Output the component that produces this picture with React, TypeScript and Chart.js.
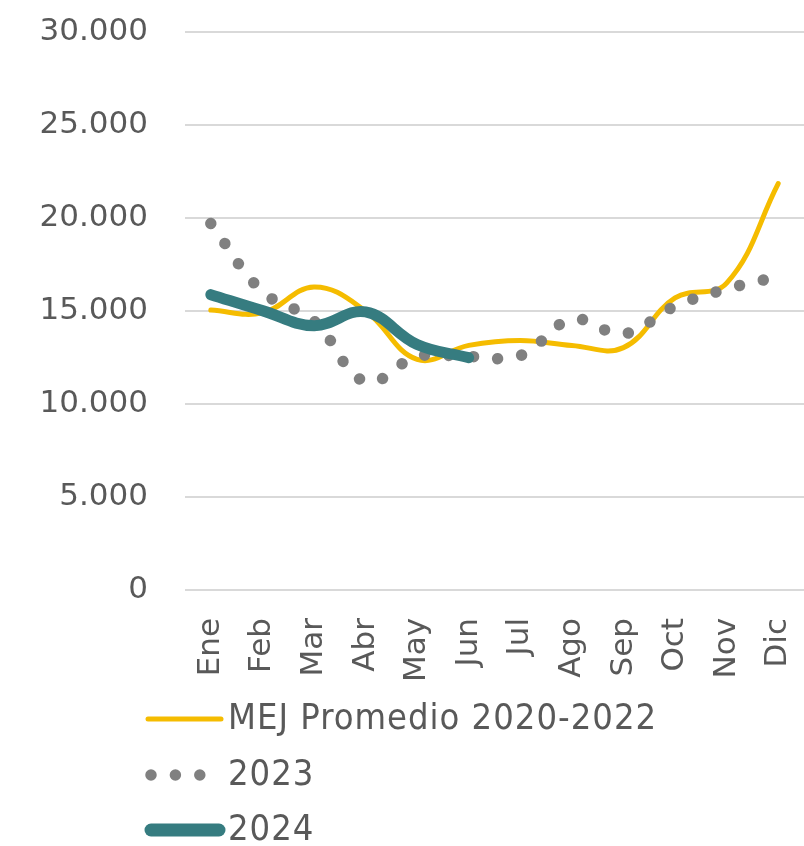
import React, { useEffect, useRef } from "react";
import { Chart, registerables } from "chart.js";

Chart.register(...registerables);

const months = ["Ene", "Feb", "Mar", "Abr", "May", "Jun", "Jul", "Ago", "Sep", "Oct", "Nov", "Dic"];
const mejPromedio = [15050, 14900, 16290, 15000, 12400, 13150, 13420, 13150, 13030, 15700, 16500, 21850];
const serie2023 = [19700, 16050, 14470, 11200, 12550, 12550, 12600, 14550, 13770, 15260, 16180, 16850];
const serie2024 = [15880, 15020, 14210, 14950, 13200, 12490, null, null, null, null, null, null];
const yTicks = [0, 5000, 10000, 15000, 20000, 25000, 30000];

const TEXT = "#595959";
const YELLOW = "#F5BC00";
const GRAY = "#808080";
const TEAL = "#367C80";
const DOT_DASH = [0.001, 24.4];

const fmt = (v: number) => String(Math.round(v)).replace(/\B(?=(\d{3})+(?!\d))/g, ".");

const legendPlugin = {
  id: "customLegend",
  afterDraw(chart: any) {
    const ctx = chart.ctx as any;
    const base = chart.chartArea.bottom;
    const rows = [
      { y: base + 129, label: "MEJ Promedio 2020-2022", kind: "solid", color: YELLOW, w: 5, x1: 148, x2: 221 },
      { y: base + 185, label: "2023", kind: "dot", color: GRAY, w: 11.5, x1: 151, x2: 201 },
      { y: base + 240, label: "2024", kind: "solid", color: TEAL, w: 13, x1: 151, x2: 219 },
    ];
    ctx.save();
    rows.forEach((r) => {
      ctx.beginPath();
      ctx.strokeStyle = r.color;
      ctx.lineWidth = r.w;
      ctx.lineCap = "round";
      ctx.setLineDash(r.kind === "dot" ? DOT_DASH : []);
      ctx.moveTo(r.x1, r.y);
      ctx.lineTo(r.x2, r.y);
      ctx.stroke();
      ctx.setLineDash([]);
      ctx.fillStyle = TEXT;
      ctx.font = '36px "DejaVu Sans Condensed", "DejaVu Sans", sans-serif';
      ctx.letterSpacing = "1px";
      ctx.textBaseline = "middle";
      ctx.textAlign = "left";
      ctx.fillText(r.label, 228, r.y + 1);
    });
    ctx.restore();
  },
};

const zeroPad = (s: any) => {
  s.paddingTop = 0;
  s.paddingBottom = 0;
  s.paddingLeft = 0;
  s.paddingRight = 0;
};

export default function App() {
  const ref = useRef<HTMLCanvasElement>(null);
  useEffect(() => {
    document.body.style.margin = "0";
    const canvas = ref.current;
    if (!canvas) return;
    const tickFont = { family: '"DejaVu Sans", sans-serif', size: 31 };
    const chart = new Chart(canvas, {
      type: "line",
      data: {
        labels: months,
        datasets: [
          {
            label: "2024",
            data: serie2024,
            borderColor: TEAL,
            backgroundColor: TEAL,
            borderWidth: 11,
            borderCapStyle: "round",
            borderJoinStyle: "round",
            tension: 0.4,
            pointRadius: 0,
            order: 0,
            spanGaps: false,
          },
          {
            label: "2023",
            data: serie2023,
            borderColor: GRAY,
            backgroundColor: GRAY,
            borderWidth: 11.5,
            borderDash: DOT_DASH,
            borderCapStyle: "round",
            borderJoinStyle: "round",
            tension: 0.4,
            pointRadius: 0,
            order: 1,
          },
          {
            label: "MEJ Promedio 2020-2022",
            data: mejPromedio,
            borderColor: YELLOW,
            backgroundColor: YELLOW,
            borderWidth: 5,
            borderCapStyle: "round",
            borderJoinStyle: "round",
            tension: 0.4,
            pointRadius: 0,
            order: 2,
          },
        ],
      },
      options: {
        responsive: false,
        animation: false,
        layout: { padding: { top: 32, right: 0, left: 0, bottom: 0 } },
        plugins: {
          legend: { display: false },
          tooltip: { enabled: false },
        },
        scales: {
          x: {
            type: "category",
            offset: true,
            grid: { display: false, drawTicks: false },
            border: { display: false },
            ticks: {
              minRotation: 90,
              maxRotation: 90,
              autoSkip: false,
              padding: 28,
              color: TEXT,
              font: tickFont,
            },
            afterFit: (s: any) => {
              s.height = 256;
              zeroPad(s);
            },
          },
          y: {
            min: yTicks[0],
            max: yTicks[yTicks.length - 1],
            afterBuildTicks: (s: any) => {
              s.ticks = yTicks.map((v) => ({ value: v }));
            },
            grid: { color: "#D9D9D9", lineWidth: 2, drawTicks: false },
            border: { display: false },
            ticks: {
              padding: 37,
              color: TEXT,
              font: tickFont,
              callback: (v: any) => fmt(Number(v)),
            },
            afterFit: (s: any) => {
              s.width = 185;
              zeroPad(s);
            },
          },
        },
      },
      plugins: [legendPlugin],
    } as any);
    return () => chart.destroy();
  }, []);
  return (
    <div style={{ width: 804, height: 846 }}>
      <canvas ref={ref} width={804} height={846} style={{ display: "block" }} />
    </div>
  );
}
